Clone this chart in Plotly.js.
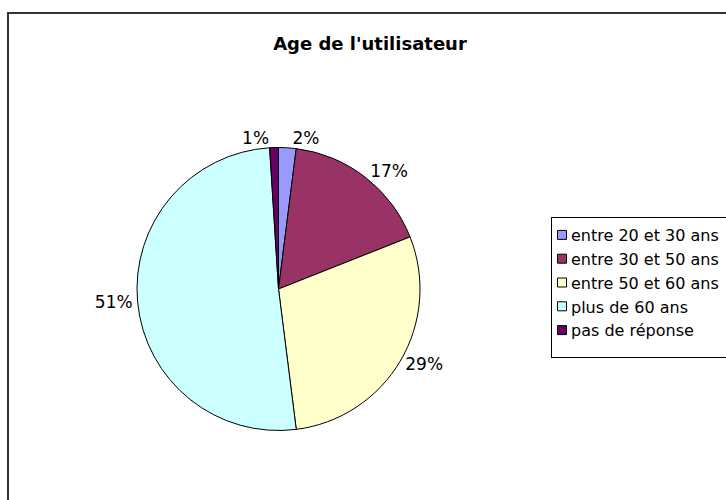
<!DOCTYPE html>
<html>
<head>
<meta charset="utf-8">
<script src="https://cdn.plot.ly/plotly-3.0.1.min.js"></script>
<style>
html,body{margin:0;padding:0;background:#fff;}
#wrap{position:relative;width:726px;height:500px;overflow:hidden;}
#frame{position:absolute;left:7px;top:12px;width:760px;height:520px;border:2px solid #333;box-sizing:border-box;pointer-events:none;}
#chart{position:absolute;left:0;top:0;width:726px;height:500px;}
</style>
</head>
<body>
<div id="wrap">
<div id="chart"></div>
<div id="frame"></div>
</div>
<script>
var categories = ["entre 20 et 30 ans", "entre 30 et 50 ans", "entre 50 et 60 ans", "plus de 60 ans", "pas de réponse"];
var values = [2, 17, 29, 51, 1];
var colors = ["#9999FF", "#993366", "#FFFFCC", "#CCFFFF", "#660066"];
var chartTitle = "Age de l'utilisateur";

var W = 726, H = 500;
var FONT = "DejaVu Sans, Liberation Sans, Arial, sans-serif";
var trace = {
  type: "pie",
  labels: categories,
  values: values,
  sort: false,
  direction: "clockwise",
  rotation: 0,
  marker: {colors: colors, line: {color: "#000", width: 1}},
  textinfo: "percent",
  texttemplate: "%{percent:.0%}",
  textposition: "outside",
  outsidetextfont: {family: FONT, size: 17, color: "#000"},
  hoverinfo: "label+percent",
  automargin: false,
  domain: {x: [137/W, 420/W], y: [1-431/H, 1-147/H]}
};
var layout = {
  width: W, height: H,
  margin: {l: 0, r: 0, t: 0, b: 0, autoexpand: false},
  paper_bgcolor: "#fff",
  font: {family: FONT, size: 16, color: "#000"},
  title: {text: "<b>" + chartTitle + "</b>", x: 370/W, xanchor: "center", y: 1-44/H, yanchor: "middle",
          font: {family: FONT, size: 18, color: "#000"}},
  showlegend: true,
  legend: {x: 551/W, xanchor: "left", y: 1-217/H, yanchor: "top",
           bordercolor: "#000", borderwidth: 1, bgcolor: "#fff",
           font: {family: FONT, size: 16, color: "#000"},
           traceorder: "normal"}
};
Plotly.newPlot("chart", [trace], layout, {displayModeBar: false, staticPlot: true}).then(function (gd) {
  // Excel-like compact legend: small square swatch, tight text, roomier box
  var legendBox = gd.querySelector(".legend");
  if (!legendBox) return;
  var bg = legendBox.querySelector("rect.bg");
  var bgLeft = bg ? bg.getBoundingClientRect().left : 0;
  if (bg) {
    var h = parseFloat(bg.getAttribute("height")) || 0;
    bg.setAttribute("height", h + 10);
    var clip = gd.querySelector("clipPath[id^='legend'] rect");
    if (clip) clip.setAttribute("height", (parseFloat(clip.getAttribute("height")) || 0) + 10);
  }
  legendBox.querySelectorAll(".traces").forEach(function (tr) {
    var sym = tr.querySelector("path.legendpie");
    var txt = tr.querySelector("text.legendtext");
    if (sym) {
      sym.setAttribute("d", "M4.5,4.5H-4.5V-4.5H4.5Z");
      var r = sym.getBoundingClientRect();
      var cx = r.left + r.width / 2;
      var shift = (bgLeft + 10.5) - cx;
      var t = sym.getAttribute("transform") || "";
      sym.setAttribute("transform", "translate(" + shift + ",0) " + t);
    }
    if (txt) {
      var tr2 = txt.getBoundingClientRect();
      var cur = parseFloat(txt.getAttribute("x")) || 0;
      var newX = cur + ((bgLeft + 19.5) - tr2.left);
      txt.setAttribute("x", newX);
      txt.querySelectorAll("tspan").forEach(function (ts) {
        if (ts.hasAttribute("x")) ts.setAttribute("x", newX);
      });
    }
  });
});
</script>
</body>
</html>
